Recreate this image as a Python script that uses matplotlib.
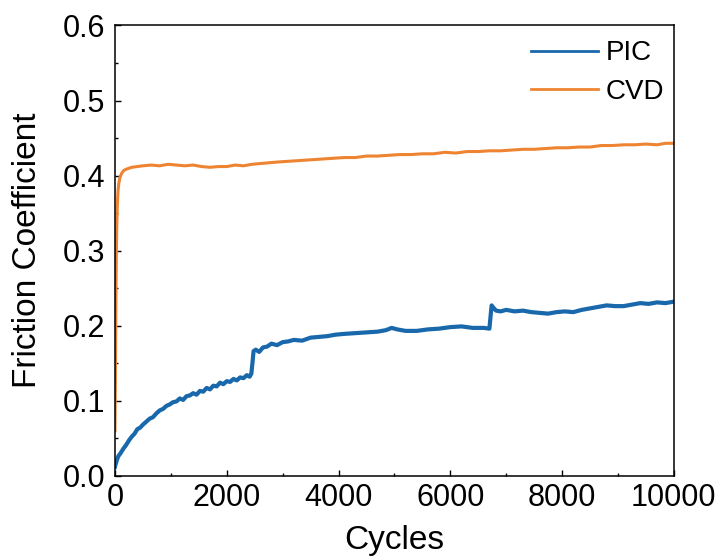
import numpy as np
import matplotlib.pyplot as plt
from matplotlib.ticker import MultipleLocator

plt.rcParams['font.family'] = ['Liberation Sans', 'DejaVu Sans']

# PIC friction trace
pic_cycles = [0, 30, 60, 100, 150, 200, 250, 300, 350, 400,
              450, 500, 560, 620, 680, 740, 800, 860, 920, 980,
              1040, 1100, 1160, 1220, 1280, 1340, 1400, 1460, 1520, 1580,
              1640, 1700, 1760, 1820, 1880, 1940, 2000, 2060, 2120, 2180,
              2240, 2300, 2360, 2410, 2440, 2460, 2480, 2520, 2580, 2650,
              2720, 2800, 2900, 3000, 3100, 3200, 3350, 3500, 3650, 3800,
              3950, 4100, 4300, 4500, 4700, 4850, 4950, 5050, 5200, 5400,
              5600, 5800, 6000, 6200, 6400, 6600, 6700, 6720, 6740, 6770,
              6820, 6900, 7000, 7150, 7300, 7450, 7600, 7750, 7900, 8050,
              8200, 8350, 8500, 8650, 8800, 8950, 9100, 9250, 9400, 9550,
              9700, 9850, 10000]
pic_mu = [0.012, 0.020, 0.026, 0.030, 0.036, 0.041, 0.047, 0.052, 0.056, 0.062,
          0.064, 0.068, 0.072, 0.076, 0.078, 0.083, 0.087, 0.089, 0.093, 0.095,
          0.098, 0.099, 0.103, 0.101, 0.106, 0.107, 0.110, 0.108, 0.113, 0.112,
          0.117, 0.115, 0.120, 0.119, 0.124, 0.122, 0.126, 0.125, 0.129, 0.127,
          0.131, 0.130, 0.134, 0.132, 0.136, 0.150, 0.166, 0.168, 0.165, 0.171,
          0.172, 0.176, 0.174, 0.178, 0.179, 0.181, 0.180, 0.184, 0.185, 0.186,
          0.188, 0.189, 0.190, 0.191, 0.192, 0.194, 0.197, 0.195, 0.193, 0.193,
          0.195, 0.196, 0.198, 0.199, 0.197, 0.197, 0.196, 0.212, 0.227, 0.224,
          0.220, 0.219, 0.221, 0.219, 0.220, 0.218, 0.217, 0.216, 0.218, 0.219,
          0.218, 0.221, 0.223, 0.225, 0.227, 0.226, 0.226, 0.228, 0.230, 0.229,
          0.231, 0.230, 0.232]

# CVD friction trace
cvd_cycles = [0, 8, 16, 24, 32, 42, 55, 70, 90, 120,
              160, 220, 300, 400, 500, 650, 800, 950, 1100, 1250,
              1400, 1550, 1700, 1850, 2000, 2150, 2300, 2450, 2600, 2750,
              2900, 3100, 3300, 3500, 3700, 3900, 4100, 4300, 4500, 4700,
              4900, 5100, 5300, 5500, 5700, 5900, 6100, 6300, 6500, 6700,
              6900, 7100, 7300, 7500, 7700, 7900, 8100, 8300, 8500, 8700,
              8900, 9100, 9300, 9500, 9700, 9850, 10000]
cvd_mu = [0.06, 0.13, 0.22, 0.29, 0.33, 0.36, 0.38, 0.39, 0.398, 0.403,
          0.407, 0.409, 0.411, 0.412, 0.413, 0.414, 0.413, 0.415, 0.414, 0.413,
          0.414, 0.412, 0.411, 0.412, 0.412, 0.414, 0.413, 0.415, 0.416, 0.417,
          0.418, 0.419, 0.420, 0.421, 0.422, 0.423, 0.424, 0.424, 0.426, 0.426,
          0.427, 0.428, 0.428, 0.429, 0.429, 0.431, 0.430, 0.432, 0.432, 0.433,
          0.433, 0.434, 0.435, 0.435, 0.436, 0.437, 0.437, 0.438, 0.438, 0.440,
          0.440, 0.441, 0.441, 0.442, 0.441, 0.443, 0.443]

fig = plt.figure(figsize=(7.23, 5.6), dpi=100)
ax = fig.add_axes([0.159, 0.1505, 0.773, 0.804])

ax.plot(pic_cycles, pic_mu, color='#1868ab', lw=3.0, label='PIC')
ax.plot(cvd_cycles, cvd_mu, color='#ee8431', lw=2.2, label='CVD')

ax.set_xlim(0, 10000)
ax.set_ylim(0, 0.6)
ax.xaxis.set_major_locator(MultipleLocator(2000))
ax.xaxis.set_minor_locator(MultipleLocator(1000))
ax.yaxis.set_major_locator(MultipleLocator(0.1))
ax.yaxis.set_minor_locator(MultipleLocator(0.05))
ax.yaxis.set_major_formatter(plt.FormatStrFormatter('%.1f'))

for s in ax.spines.values():
    s.set_linewidth(1.1)
ax.tick_params(which='both', direction='in', top=False, right=False, width=1.0)
ax.tick_params(which='major', length=4.5, labelsize=22)
ax.tick_params(axis='x', which='major', pad=5)
ax.tick_params(axis='y', which='major', pad=7)
ax.tick_params(which='minor', length=2.5)

ax.set_xlabel('Cycles', fontsize=24, labelpad=9)
ax.set_ylabel('Friction Coefficient', fontsize=24, labelpad=14)

# legend lines
leg = ax.legend(loc='upper right', frameon=False, fontsize=20, handlelength=2.4,
                handletextpad=0.3, labelspacing=0.45, borderaxespad=0.3,
                bbox_to_anchor=(1.018, 1.01))
for h in leg.get_lines():
    h.set_linewidth(2.0)

fig.savefig('out.png', dpi=100)
